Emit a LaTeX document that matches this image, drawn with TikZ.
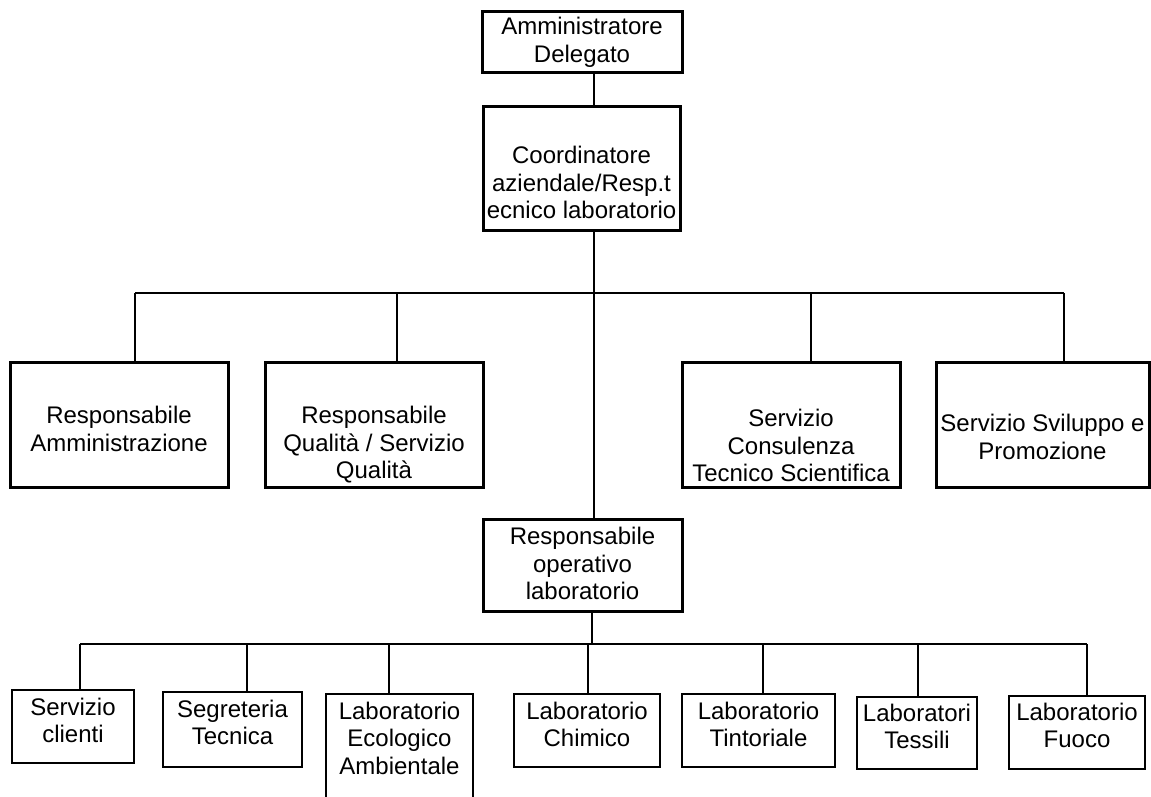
\documentclass[tikz,border=0pt]{standalone}
\usepackage{fontspec}
\setmainfont{Liberation Sans}
\pgfdeclarelayer{edgelayer}
\pgfdeclarelayer{nodelayer}
\pgfsetlayers{edgelayer,nodelayer,main}
\newcommand{\orgfont}{\fontsize{6.83}{7.82}\selectfont}
\tikzstyle{none}=[inner sep=0pt]
\tikzstyle{post}=[rectangle,draw=black,fill=white,line width=0.03cm,inner sep=0pt]
\tikzstyle{office}=[rectangle,draw=black,fill=white,line width=0.02cm,inner sep=0pt]
\tikzstyle{caption}=[anchor=north,align=center,inner sep=0pt,font=\orgfont]
\tikzstyle{simple}=[-,draw=black,line width=0.02cm]

\begin{document}
\begin{tikzpicture}
	\useasboundingbox (0, 0) rectangle (11.51, -7.96);
	\begin{pgfonlayer}{nodelayer}
		\node [style=post, minimum width=2.00cm, minimum height=0.61cm, label={[style=caption, yshift=-0.07cm]north:Amministratore\\Delegato}] (0) at (5.82, -0.415) {};
		\node [style=post, minimum width=1.97cm, minimum height=1.24cm, label={[style=caption, yshift=-0.41cm]north:Coordinatore\\aziendale/Resp.t\\ecnico laboratorio}] (1) at (5.815, -1.68) {};
		\node [style=post, minimum width=2.18cm, minimum height=1.25cm, label={[style=caption, yshift=-0.45cm]north:Responsabile\\Amministrazione}] (2) at (1.19, -4.245) {};
		\node [style=post, minimum width=2.18cm, minimum height=1.25cm, label={[style=caption, yshift=-0.45cm]north:Responsabile\\Qualità / Servizio\\Qualità}] (3) at (3.74, -4.245) {};
		\node [style=post, minimum width=2.18cm, minimum height=1.25cm, label={[style=caption, yshift=-0.48cm]north:Servizio\\Consulenza\\Tecnico Scientifica}] (4) at (7.91, -4.245) {};
		\node [style=post, minimum width=2.13cm, minimum height=1.25cm, label={[style=caption, yshift=-0.53cm]north:Servizio Sviluppo e\\Promozione}] (5) at (10.425, -4.245) {};
		\node [style=post, minimum width=1.99cm, minimum height=0.92cm, label={[style=caption, yshift=-0.09cm]north:Responsabile\\operativo\\laboratorio}] (6) at (5.825, -5.65) {};
		\node [style=office, minimum width=1.22cm, minimum height=0.73cm, label={[style=caption, yshift=-0.08cm]north:Servizio\\clienti}] (7) at (0.73, -7.265) {};
		\node [style=office, minimum width=1.39cm, minimum height=0.75cm, label={[style=caption, yshift=-0.08cm]north:Segreteria\\Tecnica}] (8) at (2.325, -7.295) {};
		\node [style=office, minimum width=1.47cm, minimum height=1.16cm, label={[style=caption, yshift=-0.08cm]north:Laboratorio\\Ecologico\\Ambientale}] (9) at (3.995, -7.52) {};
		\node [style=office, minimum width=1.46cm, minimum height=0.73cm, label={[style=caption, yshift=-0.08cm]north:Laboratorio\\Chimico}] (10) at (5.87, -7.305) {};
		\node [style=office, minimum width=1.53cm, minimum height=0.73cm, label={[style=caption, yshift=-0.08cm]north:Laboratorio\\Tintoriale}] (11) at (7.585, -7.305) {};
		\node [style=office, minimum width=1.20cm, minimum height=0.72cm, label={[style=caption, yshift=-0.07cm]north:Laboratori\\Tessili}] (12) at (9.17, -7.33) {};
		\node [style=office, minimum width=1.36cm, minimum height=0.73cm, label={[style=caption, yshift=-0.07cm]north:Laboratorio\\Fuoco}] (13) at (10.77, -7.325) {};
	\end{pgfonlayer}
	\begin{pgfonlayer}{edgelayer}
		\coordinate (14) at (5.935, -2.93);
		\coordinate (15) at (1.35, -2.93);
		\coordinate (16) at (3.97, -2.93);
		\coordinate (17) at (8.11, -2.93);
		\coordinate (18) at (10.64, -2.93);
		\coordinate (19) at (5.92, -6.44);
		\coordinate (20) at (0.80, -6.44);
		\coordinate (21) at (2.47, -6.44);
		\coordinate (22) at (3.89, -6.44);
		\coordinate (23) at (5.88, -6.44);
		\coordinate (24) at (7.63, -6.44);
		\coordinate (25) at (9.18, -6.44);
		\coordinate (26) at (10.87, -6.44);
		\draw [style=simple] (0.south -| 14) to (1.north -| 14);
		\draw [style=simple] (1.south -| 14) to (6.north -| 14);
		\draw [style=simple] (15) to (18);
		\draw [style=simple] (15) to (15 |- 2.north);
		\draw [style=simple] (16) to (16 |- 3.north);
		\draw [style=simple] (17) to (17 |- 4.north);
		\draw [style=simple] (18) to (18 |- 5.north);
		\draw [style=simple] (6.south -| 19) to (19);
		\draw [style=simple] (20) to (26);
		\draw [style=simple] (20) to (20 |- 7.north);
		\draw [style=simple] (21) to (21 |- 8.north);
		\draw [style=simple] (22) to (22 |- 9.north);
		\draw [style=simple] (23) to (23 |- 10.north);
		\draw [style=simple] (24) to (24 |- 11.north);
		\draw [style=simple] (25) to (25 |- 12.north);
		\draw [style=simple] (26) to (26 |- 13.north);
	\end{pgfonlayer}
\end{tikzpicture}
\end{document}
